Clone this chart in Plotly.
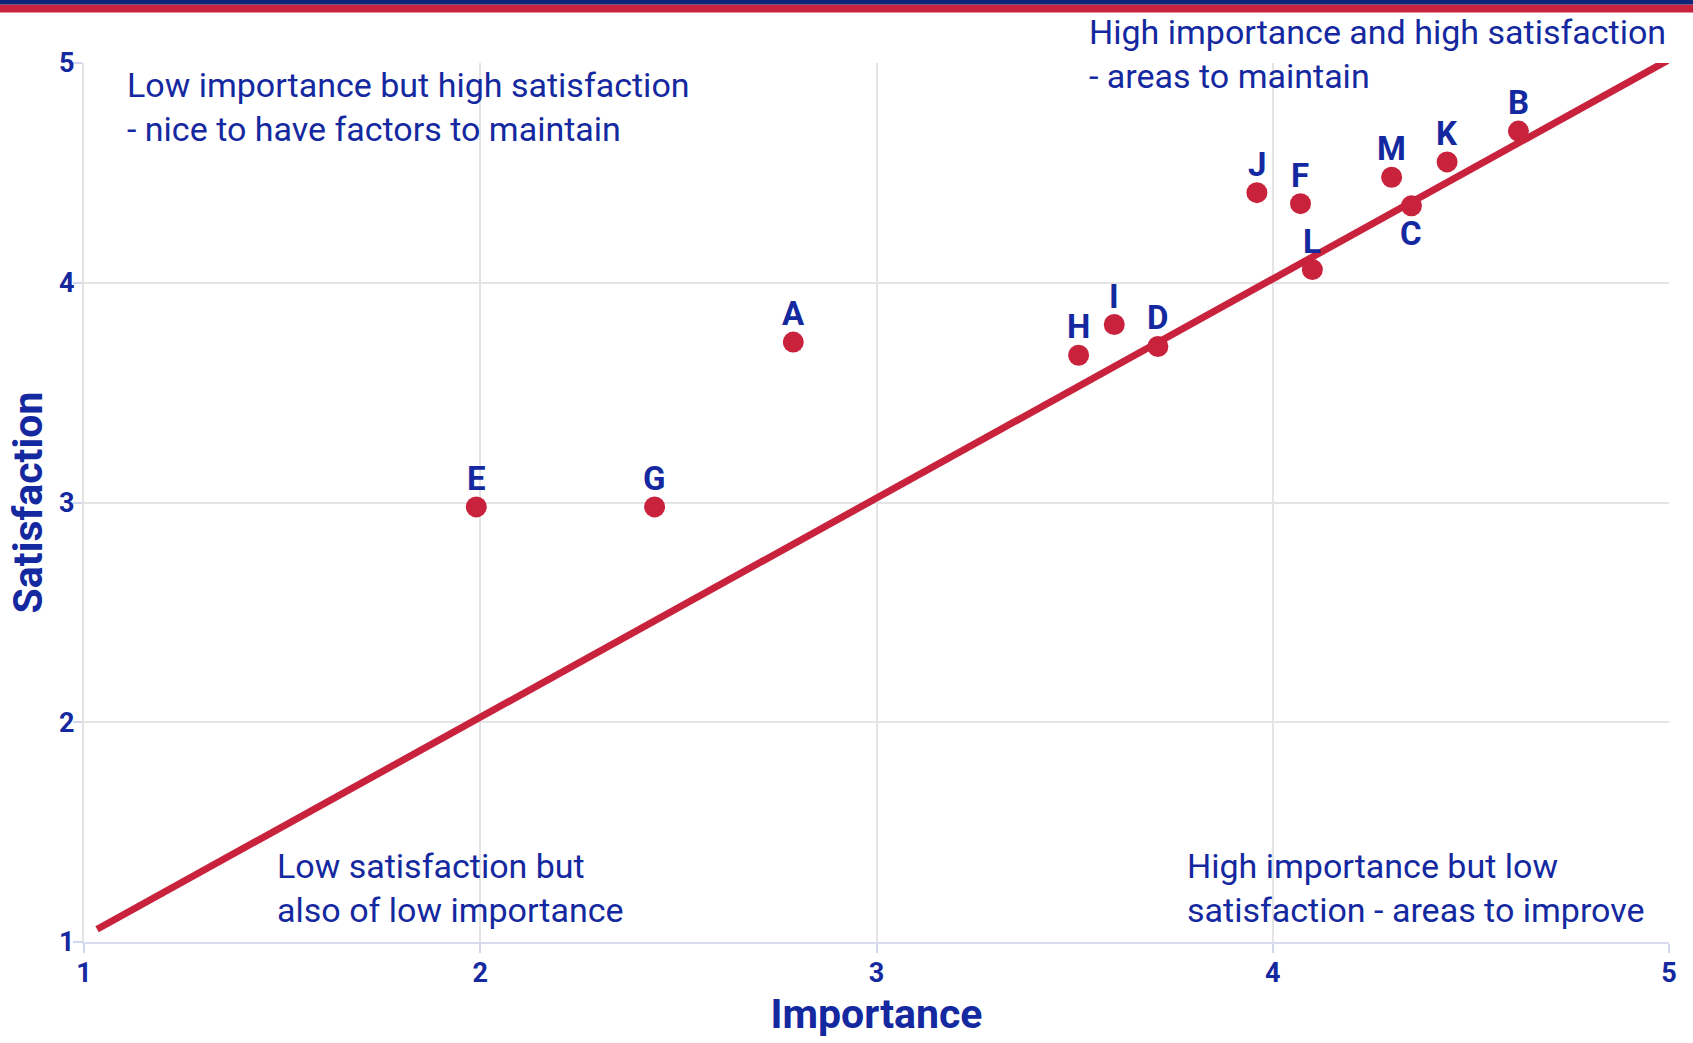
import plotly.graph_objects as go

# Survey factors: importance vs satisfaction (1-5 scale)
factors = ["A", "B", "C", "D", "E", "F", "G", "H", "I", "J", "K", "L", "M"]
importance = [2.79, 4.62, 4.35, 3.71, 1.99, 4.07, 2.44, 3.51, 3.60, 3.96, 4.44, 4.10, 4.30]
satisfaction = [3.73, 4.69, 4.35, 3.71, 2.98, 4.36, 2.98, 3.67, 3.81, 4.41, 4.55, 4.06, 4.48]
labels_below = ["C"]

# Parity line (importance == satisfaction)
parity_x = [1.033, 5.0]
parity_y = [1.058, 5.015]

BLUE = "#1428A0"
RED = "#C8223C"
NAVY = "#0D2478"
FONT = "Roboto"

fig = go.Figure()

fig.add_trace(go.Scatter(
    x=parity_x, y=parity_y, mode="lines",
    line=dict(color=RED, width=7),
    hoverinfo="skip", showlegend=False, cliponaxis=False,
))

fig.add_trace(go.Scatter(
    x=importance, y=satisfaction, mode="markers",
    marker=dict(color=RED, size=21),
    text=factors, hovertemplate="%{text}: %{x}, %{y}<extra></extra>",
    showlegend=False, cliponaxis=False,
))

# Factor letters just above (or below) each point
for name, xv, yv in zip(factors, importance, satisfaction):
    below = name in labels_below
    fig.add_annotation(
        x=xv, y=yv, xref="x", yref="y", text=name, showarrow=False,
        xanchor="center", yanchor="top" if below else "bottom",
        yshift=-6 if below else 7,
        font=dict(family=FONT, size=33, color=BLUE, weight="bold"),
    )

# Quadrant descriptions (paper coordinates of the text box's top-left corner)
quadrant_notes = [
    (0.026, 1.000, "Low importance but high satisfaction<br>- nice to have factors to maintain"),
    (0.6327, 1.060, "High importance and high satisfaction<br>- areas to maintain"),
    (0.1203, 0.112, "Low satisfaction but<br>also of low importance"),
    (0.6948, 0.112, "High importance but low<br>satisfaction - areas to improve"),
]
for qx, qy, txt in quadrant_notes:
    fig.add_annotation(
        x=qx, y=qy, xref="paper", yref="paper", text=txt, showarrow=False,
        xanchor="left", yanchor="top", align="left",
        font=dict(family=FONT, size=34, color=BLUE),
    )

axis_common = dict(
    range=[1, 5], dtick=1, tick0=1,
    showgrid=True, gridcolor="#e4e4e4", gridwidth=2,
    showline=True, linewidth=2,
    ticks="outside", ticklen=9, tickcolor="#d3d7ee", tickwidth=2,
    zeroline=False, automargin=False,
    tickfont=dict(family=FONT, size=27, color=BLUE, weight="bold"),
)

fig.update_xaxes(
    **axis_common, linecolor="#d9dcef", ticklabelstandoff=-3,
    title=dict(text="Importance", standoff=11,
               font=dict(family=FONT, size=41, color=BLUE, weight="bold")),
)
fig.update_yaxes(
    **axis_common, linecolor="#e2e2e2", ticklabelstandoff=-7,
    title=dict(text="Satisfaction", standoff=4,
               font=dict(family=FONT, size=41, color=BLUE, weight="bold")),
)

# Brand header stripe: navy band over a red band
fig.add_shape(type="rect", xref="paper", yref="paper",
              x0=-0.06, x1=1.02, y0=(941.5 - 12) / 879, y1=(941.5 - 4) / 879,
              fillcolor=RED, line_width=0, layer="above")
fig.add_shape(type="rect", xref="paper", yref="paper",
              x0=-0.06, x1=1.02, y0=(941.5 - 4) / 879, y1=(941.5 + 2) / 879,
              fillcolor=NAVY, line_width=0, layer="above")

fig.update_layout(
    width=1693, height=1043,
    margin=dict(l=84, r=24, t=63, b=101),
    paper_bgcolor="white", plot_bgcolor="white",
    font=dict(family=FONT, color=BLUE),
)

fig.write_html("out.html")
